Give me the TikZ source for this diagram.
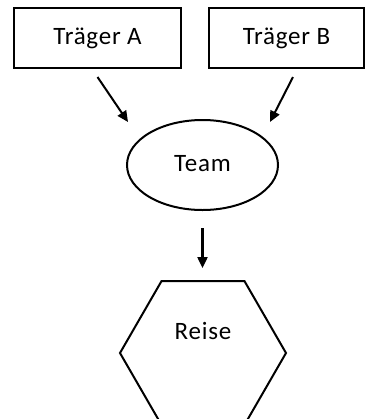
\documentclass[tikz,border=0pt]{standalone}
\usepackage{fontspec}
\setmainfont{Carlito}[LetterSpace=3.0]
\usetikzlibrary{arrows.meta,shapes,positioning}

\tikzset{
  box/.style={rectangle, draw, minimum height=30pt, inner sep=0pt,
    font=\fontsize{12.5}{15}\selectfont},
  blob/.style={ellipse, draw, minimum width=75.5pt, minimum height=45pt,
    font=\fontsize{12.5}{15}\selectfont},
  hexa/.style={regular polygon, regular polygon sides=6, draw,
    minimum size=83pt, inner sep=0pt},
}

\begin{document}
\begin{tikzpicture}[x=0.5pt, y=-0.5pt, line width=1pt,
    >={Triangle[length=5.5pt,width=5pt]}]
  \useasboundingbox (0,0) rectangle (366,419);

  \node[box, minimum width=83.5pt] (ta) at (97.5,38) {Träger A};
  \node[box, minimum width=77.5pt] (tb) at (286.5,38) {Träger B};
  \node[blob] (team) at (202.5,165) {\raisebox{1.5pt}{Team}};
  \node[hexa] (reise) at (203,353) {};
  \node[font=\fontsize{12.5}{15}\selectfont] (reiselbl)
    at ([yshift=11pt]reise.center) {Reise};

  % both carriers feed the team
  \coordinate (ta end) at (128,122);
  \coordinate (tb end) at (270,122);
  \draw[->] ([yshift=-4pt]ta.south) -- (ta end);
  \draw[->] ([shift={(6.5,8)}]tb.south) -- (tb end);

  \draw[->, shorten <=8.5pt, shorten >=6pt]
    (team.south) -- (team.south |- reise.north);
\end{tikzpicture}
\end{document}
